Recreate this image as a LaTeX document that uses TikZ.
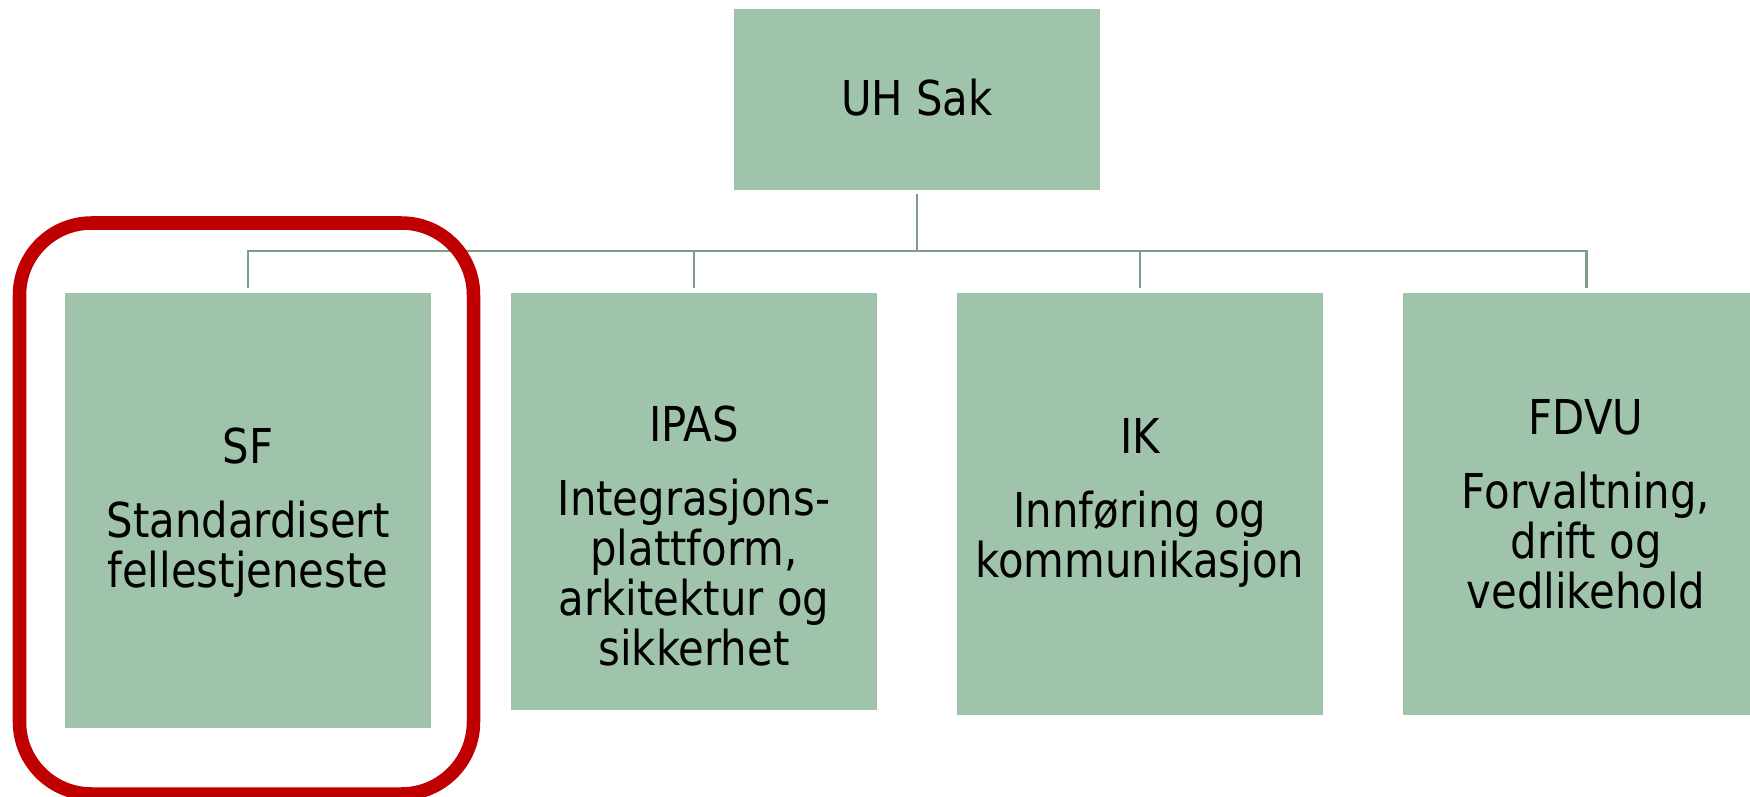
\documentclass[tikz,border=0pt]{standalone}
\usepackage{fontspec}
\setmainfont{DejaVu Sans}[FakeStretch=0.87]
\definecolor{boxgreen}{RGB}{159,196,171}
\definecolor{linkgreen}{RGB}{126,158,138}
\definecolor{markred}{RGB}{192,0,0}

\begin{document}
\begin{tikzpicture}[x=0.01cm, y=-0.01cm,
  box/.style={fill=boxgreen, minimum width=3.66cm, inner sep=0pt, anchor=north},
  txt/.style={align=center, anchor=base, inner sep=0pt,
    font=\fontsize{13.66pt}{14.2pt}\selectfont},
  link/.style={draw=linkgreen, line width=0.85pt}]
\clip (0,0) rectangle (1750,797);

\node[box, minimum height=1.81cm] (uh)   at (917,8)   {};
\node[box, minimum height=4.35cm] (sf)   at (248,292) {};
\node[box, minimum height=4.17cm] (ipas) at (694,292) {};
\node[box, minimum height=4.22cm] (ik)   at (1140,292) {};
\node[box, minimum height=4.22cm] (fdvu) at (1586,292) {};

% base = baseline of the last line
\node[txt] (uh-txt)   at (917,115)  {UH Sak};
\node[txt] (sf-txt)   at (248,587)  {SF\\[6.8pt]Standardisert\\fellestjeneste};
\node[txt] (ipas-txt) at (694,665)  {IPAS\\[6.8pt]Integrasjons-\\plattform,\\arkitektur og\\sikkerhet};
\node[txt] (ik-txt)   at (1140,577) {IK\\[6.8pt]Innføring og\\kommunikasjon};
\node[txt] (fdvu-txt) at (1586,608) {FDVU\\[6.8pt]Forvaltning,\\drift og\\vedlikehold};

\coordinate (bus) at (917,251);
\draw[link, shorten <=0.85pt] (uh.south) -- (uh.south |- bus);
\draw[link, shorten <=1pt, shorten >=1pt] (sf.north) |- (bus) -| (fdvu.north);
\draw[link, shorten <=1pt] (ipas.north) -- (ipas.north |- bus);
\draw[link, shorten <=1pt] (ik.north) -- (ik.north |- bus);

\draw[markred, line width=3.84pt, rounded corners=0.72cm] (19.5,223) rectangle (473.5,794);
\end{tikzpicture}
\end{document}
